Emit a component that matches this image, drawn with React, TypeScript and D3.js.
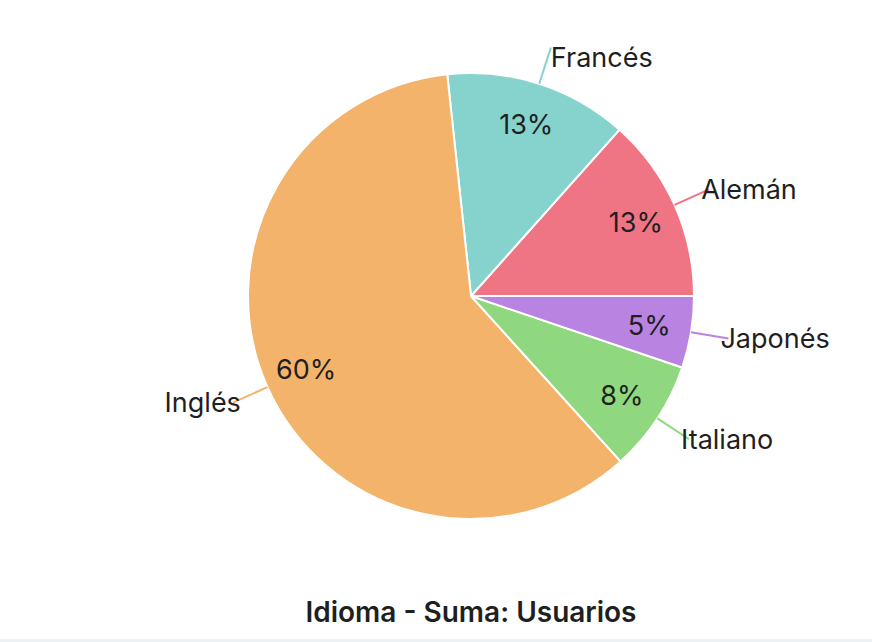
import { useEffect, useRef } from "react";
import * as d3 from "d3";

// Chart data (alphabetical, laid out counter-clockwise from 3 o'clock)
const LANGUAGES = ["Alemán", "Francés", "Inglés", "Italiano", "Japonés"];
const USERS = [134, 133, 600, 81, 52];
const COLORS = ["#F07584", "#86D3CE", "#F3B36B", "#8FD880", "#B983E1"];
const TITLE = "Idioma - Suma: Usuarios";

const WIDTH = 872;
const HEIGHT = 642;
const CENTER = { x: 471, y: 296 };
const RADIUS = 223;
const FONT = "Inter, 'Noto Sans', sans-serif";

type Row = { name: string; value: number; color: string };

export default function App() {
  const svgRef = useRef<SVGSVGElement | null>(null);

  useEffect(() => {
    if (!svgRef.current) return;
    const svg = d3.select(svgRef.current);
    svg.selectAll("*").remove();

    const rows: Row[] = LANGUAGES.map((name, i) => ({
      name,
      value: USERS[i],
      color: COLORS[i],
    }));
    const total = d3.sum(USERS);

    // background + faint bottom border
    svg.append("rect").attr("width", WIDTH).attr("height", HEIGHT).attr("fill", "#fff");
    svg
      .append("rect")
      .attr("x", 0)
      .attr("y", HEIGHT - 3)
      .attr("width", WIDTH)
      .attr("height", 3)
      .attr("fill", "#edf1f4");

    const pie = d3
      .pie<Row>()
      .sort(null)
      .value((d) => d.value)
      .startAngle(Math.PI / 2)
      .endAngle(Math.PI / 2 - 2 * Math.PI);

    const arcs = pie(rows);
    const arc = d3.arc<d3.PieArcDatum<Row>>().innerRadius(0).outerRadius(RADIUS);

    const g = svg
      .append("g")
      .attr("transform", `translate(${CENTER.x},${CENTER.y})`);

    // slices
    g.selectAll("path.slice")
      .data(arcs)
      .join("path")
      .attr("class", "slice")
      .attr("d", arc)
      .attr("fill", (d) => d.data.color)
      .attr("stroke", "#fff")
      .attr("stroke-width", 2)
      .attr("stroke-linejoin", "round");

    const mid = (d: d3.PieArcDatum<Row>) => (d.startAngle + d.endAngle) / 2;
    const pt = (a: number, r: number): [number, number] => [
      Math.sin(a) * r,
      -Math.cos(a) * r,
    ];
    const right = (d: d3.PieArcDatum<Row>) => Math.sin(mid(d)) >= 0;
    const nearTop = (d: d3.PieArcDatum<Row>) => Math.cos(mid(d)) > 0.8;

    // label lines
    const lineEnd = RADIUS * 1.17;
    g.selectAll("line.label-line")
      .data(arcs)
      .join("line")
      .attr("class", "label-line")
      .attr("x1", (d) => pt(mid(d), RADIUS)[0])
      .attr("y1", (d) => pt(mid(d), RADIUS)[1])
      .attr("x2", (d) => pt(mid(d), lineEnd)[0])
      .attr("y2", (d) => pt(mid(d), lineEnd)[1])
      .attr("stroke", (d) => d.data.color)
      .attr("stroke-width", 2);

    // outer category labels (side labels overlap the end of their line a little,
    // top labels hang below it)
    g.selectAll("text.outer")
      .data(arcs)
      .join("text")
      .attr("class", "outer")
      .attr("x", (d) => pt(mid(d), lineEnd)[0] + (nearTop(d) ? 0 : right(d) ? -8 : 8))
      .attr("y", (d) => pt(mid(d), lineEnd)[1] + (nearTop(d) ? 10 : 0))
      .attr("text-anchor", (d) => (right(d) ? "start" : "end"))
      .attr("dominant-baseline", "central")
      .attr("font-family", FONT)
      .attr("font-size", 27)
      .attr("fill", "#1f1f1f")
      .text((d) => d.data.name);

    // inner percentage labels
    const fmt = d3.format(".0%");
    g.selectAll("text.inner")
      .data(arcs)
      .join("text")
      .attr("class", "inner")
      .attr("x", (d) => pt(mid(d), RADIUS * 0.81)[0])
      .attr("y", (d) => pt(mid(d), RADIUS * 0.81)[1])
      .attr("text-anchor", "middle")
      .attr("dominant-baseline", "central")
      .attr("font-family", FONT)
      .attr("font-size", 27)
      .attr("fill", "#1f1f1f")
      .text((d) => fmt(d.data.value / total));

    // title
    svg
      .append("text")
      .attr("x", CENTER.x)
      .attr("y", 612)
      .attr("text-anchor", "middle")
      .attr("dominant-baseline", "central")
      .attr("font-family", FONT)
      .attr("font-size", 28)
      .attr("font-weight", 600)
      .attr("fill", "#1f1f1f")
      .text(TITLE);
  }, []);

  return (
    <svg
      ref={svgRef}
      width={WIDTH}
      height={HEIGHT}
      style={{ position: "absolute", top: 0, left: 0 }}
      role="img"
      aria-label={TITLE}
    />
  );
}
